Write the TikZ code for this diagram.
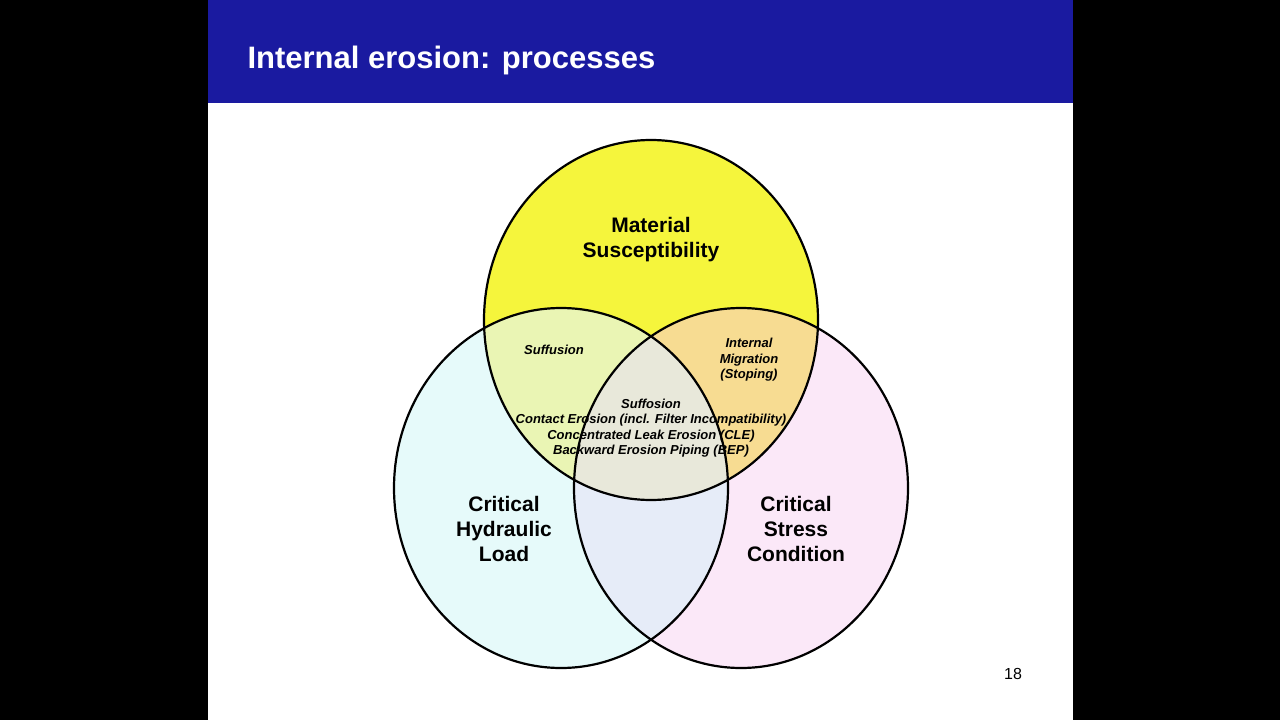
\documentclass[tikz,border=0pt]{standalone}
\usepackage{fontspec}
\setmainfont{Liberation Sans}
\definecolor{header}{HTML}{1A1AA0}
\definecolor{matfill}{HTML}{F5F53C}
\definecolor{hydfill}{HTML}{E6FAFA}
\definecolor{strfill}{HTML}{FBE8F8}
\definecolor{mhfill}{HTML}{EAF5B4}
\definecolor{msfill}{HTML}{F7DC92}
\definecolor{hsfill}{HTML}{E6ECF8}
\definecolor{allfill}{HTML}{E8E8DA}
\tikzset{
  big/.style={font=\fontsize{21}{25}\selectfont\bfseries, align=center},
  small/.style={font=\fontsize{13}{15.5}\selectfont\bfseries\itshape, align=center},
}
\begin{document}
\begin{tikzpicture}[x=1pt,y=-1pt]
  \useasboundingbox (0,0) rectangle (1280,720);
  \fill[black] (0,0) rectangle (1280,720);
  \fill[white] (208,0) rectangle (1073,720);
  \fill[header] (208,0) rectangle (1073,103);
  \node[anchor=west, white, font=\fontsize{31}{36}\selectfont\bfseries] (title) at (244,60) {Internal erosion: processes};

  % circles
  \def\mat{(651,320) ellipse [x radius=167, y radius=180]}
  \def\hyd{(561,488) ellipse [x radius=167, y radius=180]}
  \def\str{(741,488) ellipse [x radius=167, y radius=180]}
  \fill[matfill] \mat;
  \fill[hydfill] \hyd;
  \fill[strfill] \str;
  \begin{scope}\clip \mat; \fill[mhfill] \hyd; \end{scope}
  \begin{scope}\clip \mat; \fill[msfill] \str; \end{scope}
  \begin{scope}\clip \hyd; \fill[hsfill] \str; \end{scope}
  \begin{scope}\clip \mat; \clip \hyd; \fill[allfill] \str; \end{scope}

  % labels
  \node[big] (material) at (651,240) {Material\\Susceptibility};
  \node[big] (hydraulic) at (504,529) {Critical\\Hydraulic\\Load};
  \node[big] (stress) at (796,529) {Critical\\Stress\\Condition};
  \node[small] (suffusion) at (554,350) {Suffusion};
  \node[small] (migration) at (749,360) {Internal\\Migration\\(Stoping)};
  \node[small] (centre) at (651,428) {Suffosion\\Contact Erosion (incl. Filter Incompatibility)\\Concentrated Leak Erosion (CLE)\\Backward Erosion Piping (BEP)};

  \draw[line width=2.2pt] \mat \hyd \str;
  \node[font=\fontsize{16}{19}\selectfont] (page) at (1013,674) {18};
\end{tikzpicture}
\end{document}
